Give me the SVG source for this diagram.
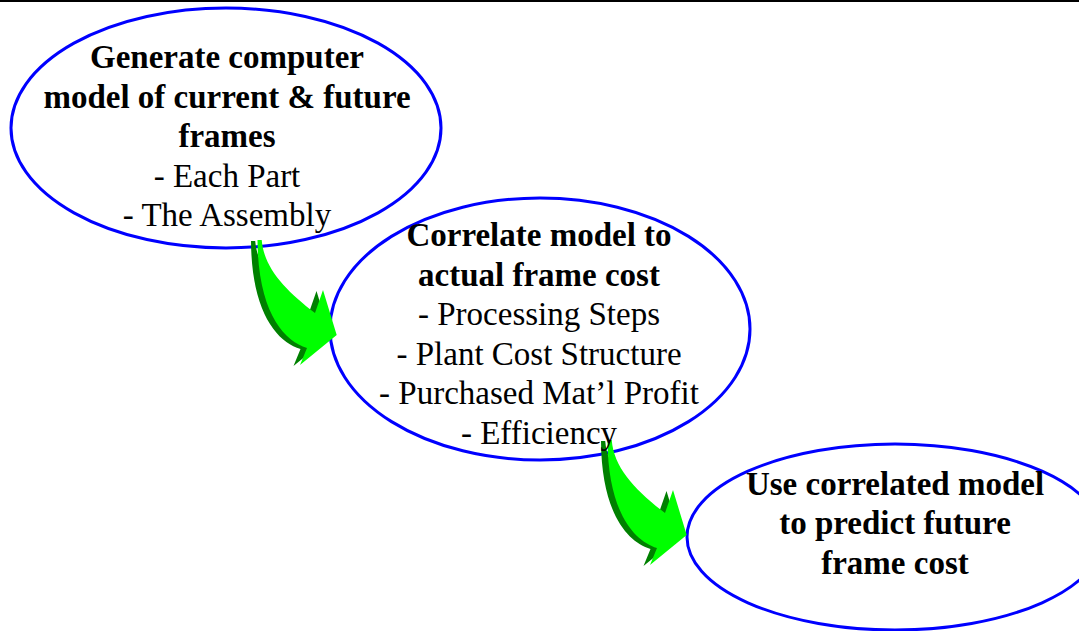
<svg xmlns="http://www.w3.org/2000/svg" width="1079" height="631" viewBox="0 0 1079 631">
  <style>
    .bubble { fill: #ffffff; stroke: #0000ff; stroke-width: 3; }
    .t { font-family: "Liberation Serif", "Times New Roman", serif; font-size: 33px; fill: #000000; text-anchor: middle; }
    .b { font-weight: bold; }
    .shade { fill: #008000; }
    .lit { fill: #00ff00; }
  </style>
  <defs>
    <!-- curved block arrow, drawn with a dark offset shade behind it -->
    <path id="bend" d="M261.7,240 C264,268 285,290 315,313 L323,290 L336.7,335 L300,365 L307,348 C284,341 258,312 257.5,240 Z"/>
    <g id="bentArrow">
      <use href="#bend" class="shade" transform="translate(-6.5,1)"/>
      <use href="#bend" class="lit"/>
    </g>
  </defs>

  <rect x="0" y="0" width="1079" height="631" fill="#ffffff"/>
  <line x1="0" y1="1" x2="1079" y2="1" stroke="#000000" stroke-width="2"/>

  <g id="node-generate">
    <ellipse class="bubble" cx="226" cy="128" rx="215" ry="120"/>
  </g>
  <g id="node-correlate">
    <ellipse class="bubble" cx="540" cy="329" rx="210" ry="131"/>
  </g>
  <g id="node-predict">
    <ellipse class="bubble" cx="895" cy="537" rx="208" ry="93"/>
  </g>

  <g id="connectors">
    <use href="#bentArrow"/>
    <use href="#bentArrow" transform="translate(350,200)"/>
  </g>

  <g id="labels">
    <text class="t b" x="227" y="68">Generate computer</text>
    <text class="t b" x="227" y="107.6">model of current &amp; future</text>
    <text class="t b" x="227" y="147.2">frames</text>
    <text class="t" x="227" y="186.8">- Each Part</text>
    <text class="t" x="227" y="226.4">- The Assembly</text>

    <text class="t b" x="539" y="246">Correlate model to</text>
    <text class="t b" x="539" y="285.6">actual frame cost</text>
    <text class="t" x="539" y="325.2">- Processing Steps</text>
    <text class="t" x="539" y="364.8">- Plant Cost Structure</text>
    <text class="t" x="539" y="404.4">- Purchased Mat’l Profit</text>
    <text class="t" x="539" y="444">- Efficiency</text>

    <text class="t b" x="895" y="494.5">Use correlated model</text>
    <text class="t b" x="895" y="534">to predict future</text>
    <text class="t b" x="895" y="573.5">frame cost</text>
  </g>
</svg>
